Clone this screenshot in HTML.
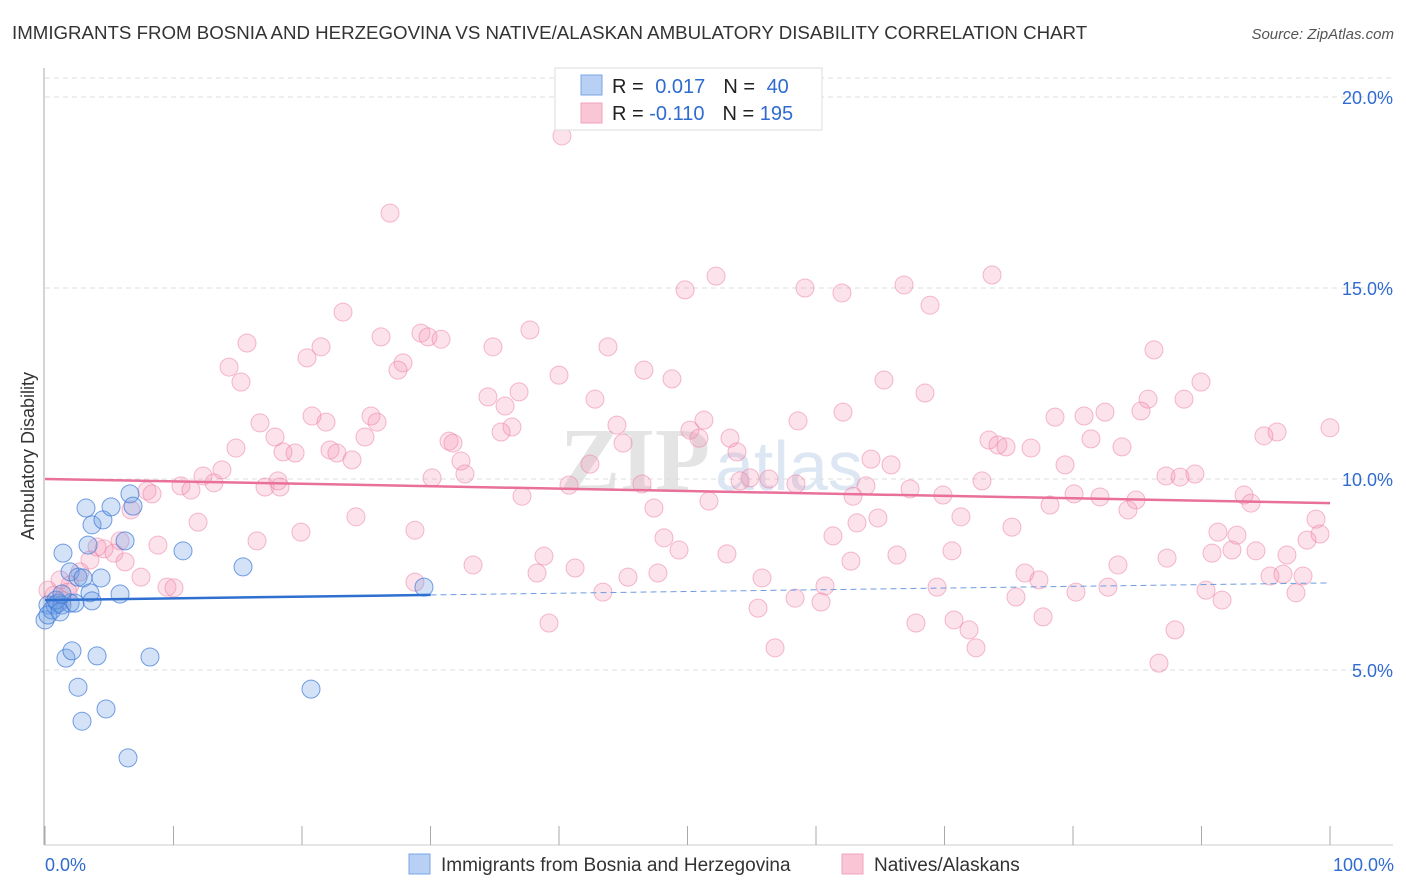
<!DOCTYPE html>
<html><head><meta charset="utf-8"><style>
body{margin:0;background:#fff;font-family:"Liberation Sans",sans-serif;}
svg{display:block}
</style></head><body>
<svg id="chart" width="1406" height="892">
<text x="12" y="39" font-size="18.7" fill="#333">IMMIGRANTS FROM BOSNIA AND HERZEGOVINA VS NATIVE/ALASKAN AMBULATORY DISABILITY CORRELATION CHART</text>
<text x="1394" y="39" font-size="15" fill="#555" font-style="italic" text-anchor="end">Source: ZipAtlas.com</text>
<text transform="translate(34,456) rotate(-90)" font-size="18" fill="#333" text-anchor="middle">Ambulatory Disability</text>
<text x="560" y="490" font-size="90" fill="#e4e4e4" font-family="Liberation Serif" font-weight="bold">ZIP</text>
<text x="715" y="490" font-size="70" fill="#dde6f3">atlas</text>
<g id="grid"></g><g id="axes"></g><g id="pts"></g><g id="lines"></g>
<g>
<rect x="555" y="68" width="267" height="62" fill="#fff" stroke="#ddd"/>
<rect x="581" y="75" width="21" height="20" fill="#b7d0f3" stroke="#7aa6e6"/>
<rect x="581" y="103" width="21" height="20" fill="#f9c6d6" stroke="#f1a2bc"/>
<text x="612" y="93" font-size="20" fill="#222">R = <tspan fill="#2f6bd0" dx="6">0.017</tspan><tspan dx="18" fill="#222">N = </tspan><tspan fill="#2f6bd0" dx="6">40</tspan></text>
<text x="612" y="120" font-size="20" fill="#222">R = <tspan fill="#2f6bd0">-0.110</tspan><tspan dx="18" fill="#222">N = </tspan><tspan fill="#2f6bd0">195</tspan></text>
</g>
<g>
<rect x="409" y="854" width="21" height="20" fill="#b7d0f3" stroke="#7aa6e6"/>
<text x="441" y="871" font-size="19" fill="#333">Immigrants from Bosnia and Herzegovina</text>
<rect x="842" y="854" width="21" height="20" fill="#f9c6d6" stroke="#f1a2bc"/>
<text x="874" y="871" font-size="19" fill="#333">Natives/Alaskans</text>
</g>
<text x="45" y="871" font-size="18" fill="#2f6bd0">0.0%</text>
<text x="1394" y="871" font-size="18" fill="#2f6bd0" text-anchor="end">100.0%</text>
</svg>
<script>
const yTicks=[5,10,15,20];
const yTickLabels=["5.0%","10.0%","15.0%","20.0%"];
const bluePx=[[45,620],[48,605],[52,610],[55,605],[58,603],[62,605],[70,603],[66,658],[72,651],[63,553],[70,572],[78,577],[83,578],[88,545],[92,525],[86,508],[103,520],[111,507],[130,494],[133,506],[125,541],[101,578],[90,593],[92,601],[120,594],[183,551],[243,567],[424,587],[78,687],[82,721],[106,709],[97,656],[150,657],[128,758],[311,689],[48,615],[56,600],[60,612],[75,603],[62,594]];
const pinkPx=[[562,136],[390,213],[716,276],[685,290],[805,288],[842,293],[904,285],[992,275],[930,305],[343,312],[381,337],[421,333],[428,337],[441,339],[530,330],[247,343],[321,347],[307,358],[493,347],[608,347],[403,363],[398,370],[229,367],[241,382],[559,375],[644,370],[672,379],[884,380],[925,393],[1154,350],[1201,382],[488,397],[505,406],[519,392],[595,399],[1148,399],[1184,399],[1141,411],[1105,412],[1084,416],[1055,417],[843,412],[798,421],[704,420],[617,425],[690,430],[312,416],[326,422],[371,416],[377,422],[260,423],[275,437],[283,452],[295,453],[330,450],[337,453],[352,460],[365,437],[449,441],[453,443],[512,427],[501,432],[623,443],[699,438],[730,438],[737,452],[989,440],[998,445],[1006,447],[1031,448],[1091,439],[1122,447],[1264,436],[1277,432],[1330,428],[236,448],[461,461],[465,474],[432,478],[590,464],[642,484],[569,485],[750,478],[769,479],[740,481],[796,484],[871,459],[891,465],[866,486],[1065,465],[1166,476],[1195,474],[1180,477],[147,491],[152,494],[181,486],[191,490],[203,476],[214,483],[222,470],[265,487],[278,481],[198,522],[280,487],[1244,495],[1251,503],[1100,497],[1074,494],[1136,500],[1128,510],[1050,505],[943,495],[910,489],[982,481],[853,496],[709,501],[522,496],[654,508],[356,517],[415,530],[301,532],[257,541],[158,545],[131,510],[120,541],[104,549],[114,553],[97,547],[90,560],[80,572],[70,585],[68,592],[62,600],[54,595],[48,590],[60,580],[141,577],[167,587],[174,588],[125,562],[878,518],[857,523],[961,517],[1012,527],[1218,532],[1237,535],[1316,519],[1320,534],[833,536],[664,538],[679,550],[544,556],[727,554],[897,555],[952,551],[1167,558],[1212,553],[1232,550],[1256,551],[1287,555],[1307,540],[473,565],[537,573],[575,568],[628,577],[658,573],[851,561],[1118,565],[1025,573],[1039,580],[1270,576],[1283,574],[1303,576],[415,582],[762,578],[825,586],[937,587],[1108,587],[1076,592],[1016,597],[1206,590],[1296,593],[603,592],[795,598],[821,602],[1222,600],[758,608],[549,623],[916,623],[954,620],[969,630],[1043,617],[1175,630],[775,648],[976,648],[1159,663]];
const blueX=bluePx.map(p=>+((p[0]-45)/12.85).toFixed(2));
const blueY=bluePx.map(p=>+((861-p[1])/38.2).toFixed(2));
const pinkX=pinkPx.map(p=>+((p[0]-45)/12.85).toFixed(2));
const pinkY=pinkPx.map(p=>+((861-p[1])/38.2).toFixed(2));
const blueTrend=[6.83,7.28];
const pinkTrend=[10.0,9.37];
const blueSolidEnd=30;

const X=v=>45+v*12.85, Y=v=>861-v*38.2;
const NS="http://www.w3.org/2000/svg";
function mk(tag,attrs,parent){const e=document.createElementNS(NS,tag);for(const k in attrs)e.setAttribute(k,attrs[k]);parent.appendChild(e);return e;}
const gridG=document.getElementById('grid'),axesG=document.getElementById('axes'),ptsG=document.getElementById('pts'),linesG=document.getElementById('lines');
const topBorder=mk('line',{x1:45,x2:1393,y1:78,y2:78,stroke:'#ddd','stroke-dasharray':'5,4'},gridG);


yTicks.forEach((t,i)=>{
 const g=mk('line',{x1:45,x2:1393,y1:Y(t),y2:Y(t),stroke:'#ddd','stroke-dasharray':'5,4'},gridG);
 
 
 const tx=mk('text',{x:1393,y:Y(t)+7,'font-size':18,fill:'#2f6bd0','text-anchor':'end'},gridG);
 tx.textContent=yTickLabels[i];
 
 
});
const ya=mk('line',{x1:44,x2:44,y1:68,y2:845,stroke:'#aaa'},axesG);


const xa=mk('line',{x1:44,x2:1393,y1:845,y2:845,stroke:'#ccc'},axesG);


for(let i=0;i<=10;i++){
 const t=mk('line',{x1:X(i*10),x2:X(i*10),y1:826,y2:845,stroke:'#aaa'},axesG);
 
 
}
pinkX.forEach((x,i)=>{
 const c=mk('circle',{cx:X(x),cy:Y(pinkY[i]),r:9,fill:'rgba(244,143,177,0.25)',stroke:'rgba(236,130,165,0.55)','stroke-width':1},ptsG);
 
 
});
blueX.forEach((x,i)=>{
 const c=mk('circle',{cx:X(x),cy:Y(blueY[i]),r:9,fill:'rgba(110,160,230,0.3)',stroke:'rgba(60,120,215,0.7)','stroke-width':1},ptsG);
 
 
});
const bAt=v=>blueTrend[0]+(blueTrend[1]-blueTrend[0])*v/100;
const pl=mk('line',{x1:X(0),y1:Y(pinkTrend[0]),x2:X(100),y2:Y(pinkTrend[1]),stroke:'#e8709a','stroke-width':2.5},linesG);


const bl=mk('line',{x1:X(0),y1:Y(bAt(0)),x2:X(blueSolidEnd),y2:Y(bAt(blueSolidEnd)),stroke:'#2f6fd0','stroke-width':2.5},linesG);


const bd=mk('line',{x1:X(blueSolidEnd),y1:Y(bAt(blueSolidEnd)),x2:X(100),y2:Y(bAt(100)),stroke:'#6f9be0','stroke-width':1,'stroke-dasharray':'6,4'},linesG);


</script>
</body></html>
